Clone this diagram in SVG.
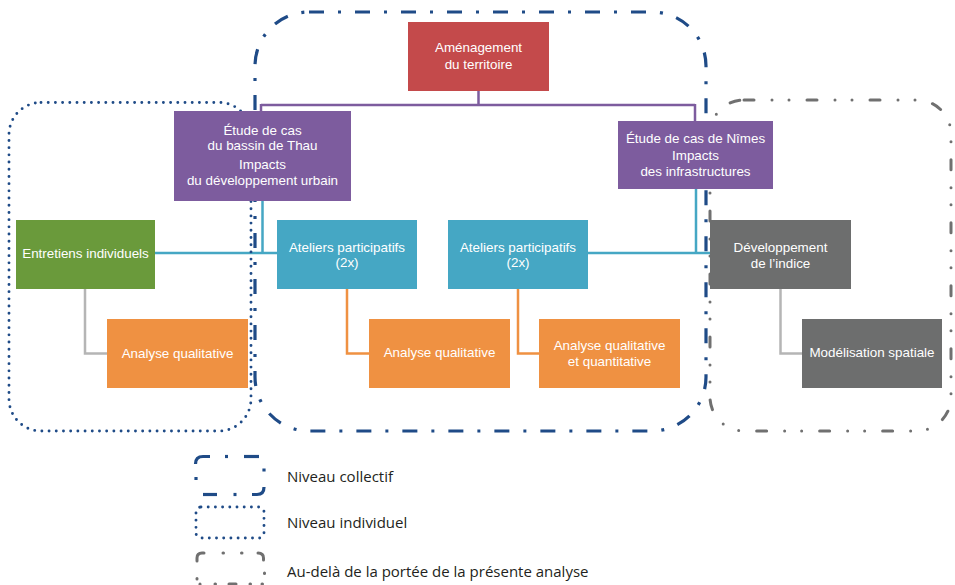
<svg xmlns="http://www.w3.org/2000/svg" width="955" height="585" viewBox="0 0 955 585">
  <style>
    .box-text { font-family: "Liberation Sans", Arial, sans-serif; font-size: 13.4px; fill: #ffffff; text-anchor: middle; }
    .legend-text { font-family: "Open Sans", "Noto Sans", sans-serif; font-size: 15px; fill: #231f20; }
    .red { fill: #c44a4b; }
    .purple { fill: #7d5c9e; }
    .green { fill: #6a9a3b; }
    .cyan { fill: #45a7c4; }
    .orange { fill: #ef9142; }
    .gray { fill: #6d6e6e; }
    .link { fill: none; stroke-width: 2.5; }
    .link-purple { stroke: #7d5c9e; }
    .link-cyan { stroke: #45a7c4; }
    .link-orange { stroke: #ef9142; }
    .link-gray { stroke: #b5b5b5; }
    .zone-collective { fill: none; stroke: #1f4b87; stroke-width: 3.2; stroke-dasharray: 15 14 3 14; }
    .zone-individual { fill: none; stroke: #1f4b87; stroke-width: 2.9; stroke-linecap: round; stroke-dasharray: 0 7.2; }
    .zone-beyond { fill: none; stroke: #707070; stroke-width: 3; stroke-linecap: round; stroke-dasharray: 10 18 0 17 0 18; }
    .icon-blue { fill: none; stroke: #1f4b87; stroke-width: 3.2; }
    .icon-gray { fill: none; stroke: #707070; stroke-width: 3; stroke-linecap: round; }
  </style>
  <rect width="955" height="585" fill="#ffffff"/>

  <!-- connectors -->
  <g id="connectors">
    <path class="link link-purple" d="M478.5,91 V105 M261,105 H695 M261,104 V111 M695,104 V121"/>
    <path class="link link-cyan" d="M262.5,201 V253 M155,253 H277"/>
    <path class="link link-cyan" d="M696,189 V253 M588,253 H710"/>
    <path class="link link-gray" d="M85,289 V353.5 H107"/>
    <path class="link link-gray" d="M780.5,289 V353.5 H802"/>
    <path class="link link-orange" d="M347,289 V353.5 H369"/>
    <path class="link link-orange" d="M518,289 V353.5 H539"/>
  </g>

  <!-- scope boundaries -->
  <g id="zones">
    <rect class="zone-collective" x="255" y="12" width="451" height="419" rx="54" ry="54"/>
    <rect class="zone-individual" x="9" y="102.5" width="242" height="328.5" rx="32" ry="32"/>
    <rect class="zone-beyond" x="710" y="100" width="241" height="331" rx="34" ry="34"/>
  </g>

  <!-- nodes -->
  <g id="node-amenagement">
    <rect class="red" x="408" y="22" width="141" height="69"/>
    <text class="box-text" x="478.5" y="52">Aménagement</text>
    <text class="box-text" x="478.5" y="69">du territoire</text>
  </g>
  <g id="node-thau">
    <rect class="purple" x="174" y="111" width="177" height="90"/>
    <text class="box-text" x="262.5" y="134.5">Étude de cas</text>
    <text class="box-text" x="262.5" y="150">du bassin de Thau</text>
    <text class="box-text" x="262.5" y="169">Impacts</text>
    <text class="box-text" x="262.5" y="184.5">du développement urbain</text>
  </g>
  <g id="node-nimes">
    <rect class="purple" x="618" y="121" width="155" height="68"/>
    <text class="box-text" x="695.5" y="142.5">Étude de cas de Nîmes</text>
    <text class="box-text" x="695.5" y="160">Impacts</text>
    <text class="box-text" x="695.5" y="176">des infrastructures</text>
  </g>
  <g id="node-entretiens">
    <rect class="green" x="16" y="220" width="139" height="69"/>
    <text class="box-text" x="85.5" y="258">Entretiens individuels</text>
  </g>
  <g id="node-ateliers-1">
    <rect class="cyan" x="277" y="220" width="140" height="69"/>
    <text class="box-text" x="347" y="251.5">Ateliers participatifs</text>
    <text class="box-text" x="347" y="267">(2x)</text>
  </g>
  <g id="node-ateliers-2">
    <rect class="cyan" x="448" y="220" width="140" height="69"/>
    <text class="box-text" x="518" y="251.5">Ateliers participatifs</text>
    <text class="box-text" x="518" y="267">(2x)</text>
  </g>
  <g id="node-indice">
    <rect class="gray" x="710" y="220" width="141" height="69"/>
    <text class="box-text" x="780.5" y="251.5">Développement</text>
    <text class="box-text" x="780.5" y="267.5">de l’indice</text>
  </g>
  <g id="node-analyse-individuelle">
    <rect class="orange" x="107" y="319" width="141" height="69"/>
    <text class="box-text" x="177.5" y="357.5">Analyse qualitative</text>
  </g>
  <g id="node-analyse-collective-1">
    <rect class="orange" x="369" y="319" width="141" height="69"/>
    <text class="box-text" x="439.5" y="357">Analyse qualitative</text>
  </g>
  <g id="node-analyse-collective-2">
    <rect class="orange" x="539" y="319" width="141" height="69"/>
    <text class="box-text" x="609.5" y="350">Analyse qualitative</text>
    <text class="box-text" x="609.5" y="366">et quantitative</text>
  </g>
  <g id="node-modelisation">
    <rect class="gray" x="802" y="319" width="140" height="69"/>
    <text class="box-text" x="872" y="357">Modélisation spatiale</text>
  </g>

  <!-- legend -->
  <g id="legend">
    <g id="legend-collective">
      <path class="icon-blue" d="M195.5,464 Q195.5,456.5 203,456.5 H210"/>
      <path class="icon-blue" d="M225,456.5 H228"/>
      <path class="icon-blue" d="M244,456.5 H259"/>
      <path class="icon-blue" d="M264,468.5 V471.5"/>
      <path class="icon-blue" d="M196,477 V480"/>
      <path class="icon-blue" d="M203,494.5 H217"/>
      <path class="icon-blue" d="M233.5,494.5 H236.5"/>
      <path class="icon-blue" d="M252,494.5 H257 Q264,494.5 264,487"/>
      <text class="legend-text" x="287" y="481.5">Niveau collectif</text>
    </g>
    <g id="legend-individual">
      <rect class="zone-individual" x="196" y="507" width="68" height="31" rx="5" ry="5"/>
      <text class="legend-text" x="287" y="528">Niveau individuel</text>
    </g>
    <g id="legend-beyond">
      <path class="icon-gray" d="M197,561 V558 Q197,553 202,553 H204"/>
      <path class="icon-gray" d="M223,553 H223.5"/>
      <path class="icon-gray" d="M241.5,553 H242"/>
      <path class="icon-gray" d="M258,553 Q263.5,553 263.5,558 V560"/>
      <path class="icon-gray" d="M264.5,573 V573.5"/>
      <path class="icon-gray" d="M197,578.5 V579"/>
      <path class="icon-gray" d="M200,585 V584 M215,584 H215.5 M229,584 H236 M250,584 H250.5 M262,584 H262.5"/>
      <text class="legend-text" x="287" y="576.5">Au-delà de la portée de la présente analyse</text>
    </g>
  </g>
</svg>
